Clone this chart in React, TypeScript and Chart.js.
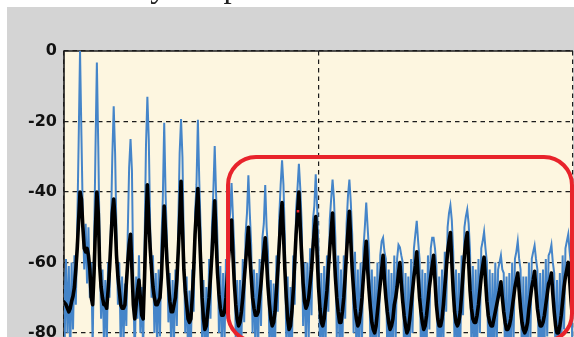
import React, { useEffect, useRef } from "react";
import { Chart, registerables } from "chart.js";

Chart.register(...registerables);

// Spectrum bins (Hz): bin i sits at BIN0_HZ + i * BIN_HZ
const BIN_HZ = 11.025;
const BIN0_HZ = -6.3;
const X_RANGE_HZ = [0, 4000];
const X_GRID_STEP_HZ = 2000;
const Y_RANGE_DB = [-100, 0];
const Y_TICK_STEP_DB = 20;

// Smoothed spectrum (black), one row per harmonic period
const BLACK_DB = [
  -71, -71.5, -72, -73, -74, -73, -71, -69.5, -67, -62, -56, -48,
  -40, -42, -50, -56, -57, -56, -58, -62, -70, -72, -63, -50,
  -40, -46, -61, -67, -70, -72, -72, -73, -68, -62, -54, -46,
  -42, -48, -58, -64, -68, -72, -73, -73, -72, -66, -60, -55,
  -52, -62, -72, -76, -72, -68, -65, -70, -75, -76, -64, -50,
  -38, -48, -56, -62, -67, -70, -72, -72, -71, -70, -64, -54,
  -44, -52, -60, -66, -71, -74, -74, -72, -70, -65, -57, -48,
  -37, -50, -62, -68, -72, -76, -77, -76, -70, -62, -52, -45,
  -39, -50, -60, -70, -76, -79, -78, -74, -70, -64, -58, -50,
  -42.5, -54, -63, -69, -73, -75, -75, -74, -70, -64, -58, -53,
  -48, -58, -66, -72, -76, -78, -77, -74, -70, -65, -60, -55,
  -50, -58, -64, -70, -73, -75, -75, -74, -70, -66, -61, -57,
  -53, -60, -67, -72, -76, -78, -77, -74, -68, -62, -55, -48,
  -43, -52, -62, -70, -76, -79, -78, -74, -68, -60, -52, -46,
  -40, -50, -58, -66, -71, -73, -72, -70, -66, -62, -56, -51,
  -47, -58, -67, -73, -77, -78, -76, -72, -68, -62, -56, -51,
  -46, -56, -64, -70, -74, -77, -77, -74, -70, -64, -57, -51,
  -45.5, -54, -62, -68, -73, -76, -78, -77, -74, -70, -64, -59,
  -54, -62, -68, -73, -77, -79, -80, -78, -74, -70, -66, -62,
  -58, -65, -70, -74, -77, -79, -78, -76, -72, -70, -67, -63,
  -60, -66, -71, -75, -78, -80, -79, -76, -72, -68, -64, -61,
  -57, -64, -70, -74, -77, -79, -78, -75, -71, -67, -64, -61,
  -58, -65, -72, -76, -78, -78, -76, -72, -67, -62, -57, -54,
  -51.5, -60, -68, -74, -77, -78, -77, -74, -69, -63, -58, -54,
  -51.5, -60, -68, -73, -76, -77, -77, -75, -72, -68, -64, -61,
  -58.5, -65, -71, -75, -77, -78, -78, -76, -74, -72, -70, -68,
  -65.5, -70, -74, -77, -79, -79, -78, -76, -73, -70, -67, -65,
  -63, -68, -73, -77, -79, -80, -79, -77, -73, -70, -67, -65,
  -62.5, -68, -73, -76, -78, -78, -77, -75, -72, -69, -66, -65,
  -63, -69, -74, -78, -80, -80, -78, -75, -71, -67, -64, -62,
  -60, -65, -71, -76,
];

// Raw (noisy) spectrum (blue), same bins
const BLUE_DB = [
  -62, -84, -59, -80, -61, -88, -60, -79, -58, -72, -50, -26,
  0, -24, -47, -62, -49, -66, -50, -70, -60, -84, -55, -28,
  -3.3, -27, -55, -76, -62, -82, -65, -86, -60, -70, -50, -30,
  -15.7, -29, -52, -72, -60, -84, -64, -83, -66, -78, -52, -33,
  -25, -34, -66, -88, -64, -76, -58, -80, -67, -86, -55, -27,
  -13, -25, -50, -70, -58, -80, -63, -85, -62, -81, -54, -42,
  -20.4, -41, -54, -77, -63, -86, -65, -82, -62, -78, -50, -29,
  -19.3, -30, -55, -80, -64, -88, -68, -85, -62, -74, -46, -38,
  -19.5, -37, -51, -82, -65, -90, -67, -84, -59, -76, -50, -40,
  -27, -41, -54, -80, -61, -86, -63, -83, -59, -76, -50, -46,
  -37.5, -47, -57, -82, -65, -89, -65, -84, -59, -77, -52, -46,
  -35.3, -46, -55, -80, -62, -86, -63, -84, -59, -78, -53, -49,
  -38, -50, -57, -84, -65, -90, -66, -85, -58, -74, -47, -38,
  -31, -38, -53, -82, -64, -92, -67, -86, -58, -72, -45, -39,
  -32, -39, -49, -78, -60, -85, -60, -82, -56, -75, -48, -44,
  -35, -44, -57, -85, -63, -90, -61, -84, -58, -74, -48, -42,
  -36.5, -42, -53, -82, -58, -88, -62, -86, -58, -76, -49, -41,
  -36.5, -43, -52, -80, -57, -87, -62, -88, -60, -82, -56, -50,
  -43, -50, -57, -85, -62, -91, -64, -89, -60, -82, -58, -54,
  -53, -57, -59, -86, -62, -92, -63, -88, -58, -82, -59, -55,
  -55.7, -58, -60, -87, -63, -93, -64, -88, -59, -80, -56, -52,
  -48.2, -54, -59, -86, -62, -91, -63, -87, -58, -79, -56, -53,
  -53, -56, -61, -88, -64, -90, -62, -84, -57, -74, -50, -46,
  -43.8, -48, -57, -86, -62, -90, -63, -86, -58, -75, -50, -47,
  -45, -49, -57, -85, -61, -89, -62, -87, -59, -80, -56, -54,
  -51.3, -56, -60, -87, -62, -90, -63, -88, -60, -84, -62, -60,
  -58, -62, -63, -89, -64, -92, -63, -88, -60, -82, -59, -57,
  -54, -59, -62, -89, -64, -93, -64, -89, -60, -82, -59, -57,
  -55.2, -59, -62, -88, -63, -91, -62, -87, -59, -81, -58, -57,
  -55, -60, -63, -90, -65, -93, -63, -87, -58, -79, -56, -54,
  -52, -57, -61, -88,
];

// Small red marker
const MARKER_HZ = [1839];
const MARKER_DB = [-45.5];

// Highlight box (Hz / dB)
const BOX_HZ = [1289, 3992];
const BOX_DB = [-30.1, -82.5];

const TITLE = "Harmony of speech";

const COLORS = {
  page: "#ffffff",
  panel: "#d4d4d4",
  plot: "#fdf6e0",
  grid: "#1c1c1c",
  blue: "#4585c9",
  black: "#000000",
  red: "#e8232b",
};

const framePlugin = {
  id: "frame",
  beforeDraw(chart: any) {
    const { ctx, chartArea: a } = chart;
    ctx.save();
    ctx.fillStyle = COLORS.plot;
    ctx.fillRect(a.left, a.top, a.right - a.left, a.bottom - a.top);
    ctx.restore();
  },
  beforeDatasetsDraw(chart: any) {
    const { ctx, chartArea: a } = chart;
    ctx.save();
    ctx.strokeStyle = COLORS.grid;
    ctx.lineWidth = 1.6;
    ctx.beginPath();
    ctx.moveTo(a.left, a.bottom);
    ctx.lineTo(a.left, a.top);
    ctx.lineTo(a.right, a.top);
    ctx.stroke();
    ctx.restore();
  },
  afterDatasetsDraw(chart: any) {
    const { ctx } = chart;
    const xs = chart.scales.x;
    const ys = chart.scales.y;
    const l = xs.getPixelForValue(BOX_HZ[0]);
    const r = xs.getPixelForValue(BOX_HZ[1]);
    const t = ys.getPixelForValue(BOX_DB[0]);
    const b = ys.getPixelForValue(BOX_DB[1]);
    const rad = 28;
    ctx.save();
    ctx.strokeStyle = COLORS.red;
    ctx.lineWidth = 4;
    ctx.beginPath();
    ctx.moveTo(l + rad, t);
    ctx.lineTo(r - rad, t);
    ctx.arcTo(r, t, r, t + rad, rad);
    ctx.lineTo(r, b - rad);
    ctx.arcTo(r, b, r - rad, b, rad);
    ctx.lineTo(l + rad, b);
    ctx.arcTo(l, b, l, b - rad, rad);
    ctx.lineTo(l, t + rad);
    ctx.arcTo(l, t, l + rad, t, rad);
    ctx.closePath();
    ctx.stroke();
    ctx.restore();
  },
};

export default function App() {
  const ref = useRef<HTMLCanvasElement>(null);

  useEffect(() => {
    if (!ref.current) return;
    const binX = (i: number) => BIN0_HZ + i * BIN_HZ;
    const blue = BLUE_DB.map((y, i) => ({ x: binX(i), y }));
    const black = BLACK_DB.map((y, i) => ({ x: binX(i), y }));
    const marker = MARKER_HZ.map((x, i) => ({ x, y: MARKER_DB[i] }));

    const chart = new Chart(ref.current, {
      type: "line",
      data: {
        datasets: [
          {
            label: "marker",
            data: marker,
            showLine: false,
            pointStyle: "rect",
            pointRadius: 1.8,
            pointBackgroundColor: COLORS.red,
            pointBorderWidth: 0,
            borderColor: COLORS.red,
            order: 0,
          },
          {
            label: "smoothed",
            data: black,
            borderColor: COLORS.black,
            borderWidth: 3.6,
            borderJoinStyle: "round",
            pointRadius: 0,
            tension: 0,
            order: 1,
          },
          {
            label: "raw",
            data: blue,
            borderColor: COLORS.blue,
            borderWidth: 2,
            pointRadius: 0,
            tension: 0,
            order: 2,
          },
        ],
      },
      options: {
        animation: false,
        responsive: false,
        maintainAspectRatio: false,
        devicePixelRatio: 1,
        events: [],
        layout: { padding: { top: 51, right: 27, bottom: 16.5, left: 0 } },
        plugins: {
          legend: { display: false },
          tooltip: { enabled: false },
          title: { display: false },
        },
        scales: {
          x: {
            type: "linear",
            min: X_RANGE_HZ[0],
            max: X_RANGE_HZ[1],
            afterFit: (s: any) => {
              s.height = 0;
            },
            ticks: { display: false, stepSize: X_GRID_STEP_HZ },
            grid: { color: COLORS.grid, lineWidth: 1.2, drawTicks: false },
            border: { display: false, dash: [4.5, 4] },
          },
          y: {
            type: "linear",
            min: Y_RANGE_DB[0],
            max: Y_RANGE_DB[1],
            afterFit: (s: any) => {
              s.width = 64;
            },
            ticks: {
              stepSize: Y_TICK_STEP_DB,
              color: "#111111",
              padding: 7,
              font: { family: '"DejaVu Sans", sans-serif', weight: "bold", size: 16 },
            },
            grid: { color: COLORS.grid, lineWidth: 1.2, drawTicks: false },
            border: { display: false, dash: [4.5, 4] },
          },
        },
      },
      plugins: [framePlugin],
    } as any);

    return () => chart.destroy();
  }, []);

  return (
    <div style={{ position: "fixed", inset: 0, overflow: "hidden", background: COLORS.page }}>
      <div
        style={{ position: "absolute", left: 7, top: 7, right: 0, bottom: 0, background: COLORS.panel }}
      />
      <canvas
        ref={ref}
        width={600}
        height={420}
        style={{ position: "absolute", left: 0, top: 0, width: 600, height: 420 }}
      />
      <div
        style={{
          position: "absolute",
          left: 42,
          top: -30.3,
          fontFamily: '"Liberation Serif", serif',
          fontSize: 33,
          lineHeight: "33px",
          whiteSpace: "nowrap",
          color: "#222",
        }}
      >
        {TITLE}
      </div>
    </div>
  );
}
